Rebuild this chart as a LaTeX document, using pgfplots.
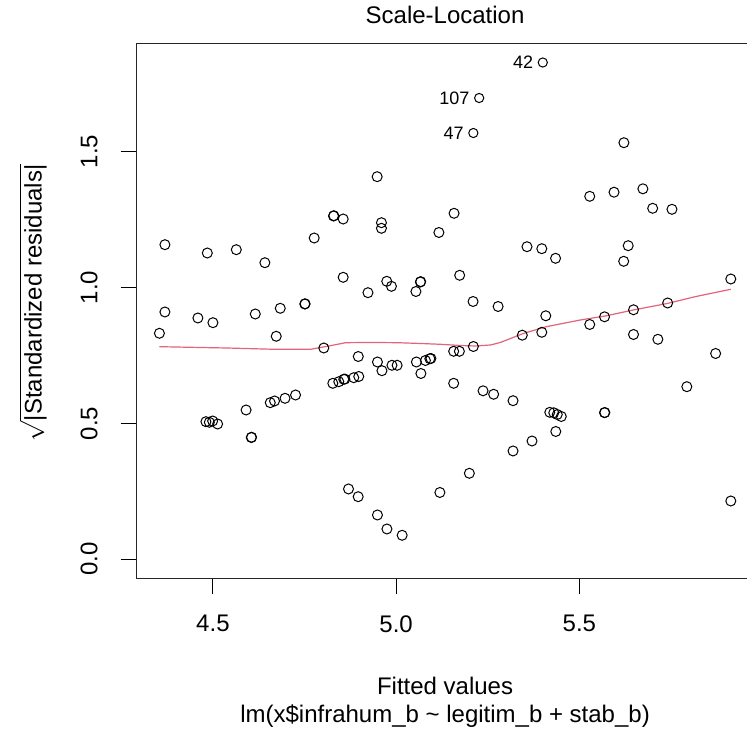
\documentclass[border=0pt]{standalone}
\usepackage{pgfplots}
\pgfplotsset{compat=1.18}
\usepackage{pgfplotstable}
\usepackage{fontspec}
\setmainfont{Liberation Sans}
\definecolor{rred}{HTML}{DF536B}

\pgfplotstableread{
x y
4.354 0.8315
4.369 1.1575
4.369 0.9099
4.459 0.8878
4.4847 1.1269
4.500 0.8705
4.5638 1.1391
4.6156 0.9025
4.6418 1.0912
4.6728 0.8205
4.6838 0.9235
4.7508 0.9393
4.7515 0.9400
4.7764 1.1821
4.8026 0.7774
4.8291 1.2631
4.8300 1.2640
4.8555 1.2520
4.8555 1.0375
4.9482 1.4077
4.9599 1.2384
4.9599 1.2178
4.9231 0.9809
4.9744 1.0228
4.9872 1.0044
5.0540 0.9853
5.0662 1.0202
5.0670 1.0215
5.1167 1.2024
5.1581 1.2730
5.1734 1.0449
5.2099 0.9485
5.2783 0.9301
5.4084 0.8959
5.3443 0.8245
5.3975 0.8352
5.2108 0.7829
5.1570 0.7653
5.1726 0.7653
4.8967 0.7461
4.9490 0.7259
4.9613 0.6939
4.9886 0.7138
5.0027 0.7138
5.0553 0.7259
5.0676 0.6836
5.0799 0.7314
5.0949 0.7388
5.0920 0.7380
4.8272 0.6475
4.8435 0.6534
4.8571 0.6623
4.8600 0.6630
4.8844 0.6681
4.8980 0.6726
4.4809 0.5063
4.4902 0.5041
4.4992 0.5088
4.5128 0.4978
4.5905 0.5493
4.6047 0.4481
4.6055 0.4490
4.6565 0.5762
4.6682 0.5824
4.6968 0.5923
4.7255 0.6045
4.8700 0.2587
4.8964 0.2303
4.9490 0.1630
4.9749 0.1115
5.0164 0.0883
5.1194 0.2458
5.1570 0.6475
5.2372 0.6199
5.2661 0.6071
5.3190 0.5835
5.3190 0.3985
5.3708 0.4352
5.1998 0.3164
5.4193 0.5408
5.4302 0.5390
5.4397 0.5327
5.4507 0.5254
5.4357 0.4702
5.5687 0.5394
5.5695 0.5400
5.5283 0.8639
5.5687 0.8922
5.6478 0.9180
5.6478 0.8271
5.7143 0.8094
5.7410 0.9430
5.8719 0.7572
5.7933 0.6350
5.9133 0.2145
5.9133 1.0313
5.6216 1.5327
5.5283 1.3355
5.5946 1.3506
5.6734 1.3631
5.7001 1.2914
5.7527 1.2877
5.3571 1.1501
5.3975 1.1428
5.4351 1.1074
5.6333 1.1538
5.6210 1.0964
}\pts

\pgfplotstableread{
x y lab
5.4002 1.8278 42
5.2266 1.6972 107
5.2107 1.5684 47
}\labpts

\pgfplotstableread{
x y
4.354 0.7822
4.5373 0.7774
4.6668 0.7726
4.7664 0.7726
4.8209 0.7859
4.8618 0.7969
4.9300 0.7977
5.0035 0.7969
5.0663 0.7940
5.1208 0.7910
5.1753 0.7866
5.2162 0.7848
5.2571 0.7884
5.2844 0.7977
5.3471 0.8308
5.4098 0.8558
5.5025 0.8804
5.5706 0.8951
5.6470 0.9172
5.7397 0.9411
5.8160 0.9662
5.9133 0.9934
}\smooth

\begin{document}
\begin{tikzpicture}[font=\fontsize{12}{14}\selectfont]
\begin{axis}[
  scale only axis,
  width=308.35pt, height=267.5pt,
  xmin=4.292, xmax=5.975,
  ymin=-0.070, ymax=1.8985,
  xtick={4.5,5.0,5.5},
  ytick={0,0.5,1.0,1.5},
  xtick pos=bottom, ytick pos=left,
  tick align=outside,
  major tick length=8pt,
  every tick/.style={black, line width=0.5pt},
  axis line style={line width=0.6pt, black!85},
  xticklabel shift=7pt,
  yticklabel shift=8pt,
  yticklabel style={rotate=90, anchor=south},
  /pgf/number format/.cd, fixed, fixed zerofill, precision=1, assume math mode=true,
  /pgfplots/.cd,
  axis background/.style={fill=white},
]
\addplot[only marks, mark=o, mark size=2.5pt, mark options={line width=0.5pt, black}] table[x=x,y=y] {\pts};
\addplot[only marks, mark=o, mark size=2.3pt, mark options={line width=0.5pt, black},
  nodes near coords, point meta=explicit symbolic,
  nodes near coords style={anchor=east, inner sep=0pt, xshift=-4.6pt, font=\fontsize{9}{10}\selectfont, black}]
  table[x=x,y=y,meta=lab] {\labpts};
\addplot[rred!90, line width=0.6pt, no marks] table[x=x,y=y] {\smooth};
\coordinate (sw) at (rel axis cs:0,0);
\coordinate (nn) at (rel axis cs:0.5,1);
\coordinate (ss) at (rel axis cs:0.5,0);
\coordinate (ww) at (rel axis cs:0,0.5);
\end{axis}
\node[anchor=base] at ([yshift=9.85pt]nn) {Scale-Location};
\node[anchor=base] at ([yshift=-58.15pt]ss) {Fitted values};
\node[anchor=base] at ([yshift=-72.15pt]ss) {lm(x\$infrahum\_b \textasciitilde{} legitim\_b + stab\_b)};
\node[rotate=90, anchor=base] at ([xshift=-47.5pt,yshift=4pt]ww) {$\sqrt{\vphantom{\mbox{S}}\smash{\mbox{|Standardized residuals|}}}$};
\pgfresetboundingbox
\path[use as bounding box] ([xshift=-68.35pt,yshift=-79.85pt]sw) rectangle ([xshift=305.15pt,yshift=289.15pt]sw);
\end{tikzpicture}
\end{document}
